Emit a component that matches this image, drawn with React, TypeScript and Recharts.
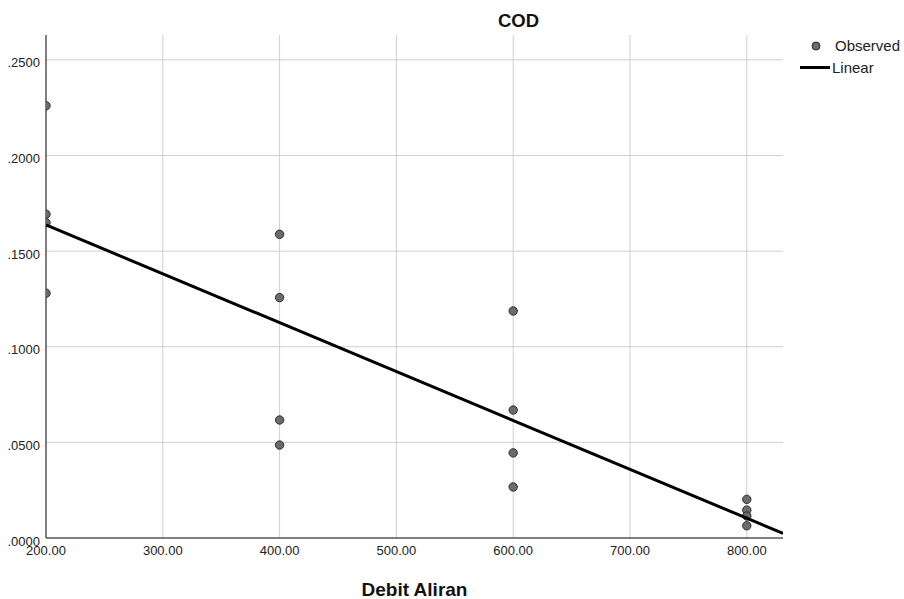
import React from 'react';
import { ScatterChart, Scatter, XAxis, YAxis, ReferenceLine } from 'recharts';

// Observed COD per flow rate (Debit Aliran)
const flowRates = [200, 200, 200, 200, 400, 400, 400, 400, 600, 600, 600, 600, 800, 800, 800, 800];
const codValues = [
  0.226, 0.1693, 0.1649, 0.128,
  0.1588, 0.1257, 0.0617, 0.0486,
  0.1187, 0.0669, 0.0445, 0.0267,
  0.0202, 0.0146, 0.0115, 0.0064,
];
const xTicks = [200, 300, 400, 500, 600, 700, 800];
const yTicks = [0, 0.05, 0.1, 0.15, 0.2, 0.25];
const xDomain: [number, number] = [200, 831];
const yDomain: [number, number] = [0, 0.263];

const observed = flowRates.map((x, i) => ({ x, y: codValues[i] }));

// Least-squares linear fit over the observed points
const n = flowRates.length;
const meanX = flowRates.reduce((a, b) => a + b, 0) / n;
const meanY = codValues.reduce((a, b) => a + b, 0) / n;
let sxy = 0;
let sxx = 0;
flowRates.forEach((x, i) => {
  sxy += (x - meanX) * (codValues[i] - meanY);
  sxx += (x - meanX) * (x - meanX);
});
const slope = sxy / sxx;
const intercept = meanY - slope * meanX;
const fitted = xDomain.map((x) => ({ x, y: intercept + slope * x }));

const FONT = '"Liberation Sans", Arial, sans-serif';
const GRID = '#cfcfcf';

const Dot = (props: any) => {
  const { cx, cy } = props;
  if (cx == null || cy == null) return <g />;
  return <circle cx={cx} cy={cy} r={4.2} fill="#6b6b6b" stroke="#2e2e2e" strokeWidth={1} />;
};

// Title and legend drawn on top of the chart
const Overlay = () => (
  <svg
    width={904}
    height={599}
    style={{ position: 'absolute', left: 0, top: 0, pointerEvents: 'none' }}
  >
    <text x={518.5} y={26.5} textAnchor="middle" fontSize={18.5} fontWeight="bold" fill="#111" fontFamily={FONT}>
      COD
    </text>
    <g transform="translate(800,37)">
      <circle cx={16} cy={9} r={4} fill="#6b6b6b" stroke="#2e2e2e" strokeWidth={1} />
      <text x={35} y={9} dy="0.35em" fontSize={15} fill="#222" fontFamily={FONT}>Observed</text>
      <line x1={0} y1={30.5} x2={30} y2={30.5} stroke="#000" strokeWidth={3} />
      <text x={32} y={30.5} dy="0.35em" fontSize={15} fill="#222" fontFamily={FONT}>Linear</text>
    </g>
  </svg>
);

export default function App() {
  return (
    <div style={{ position: 'absolute', left: 0, top: 0, width: 904, height: 599, background: '#fff', fontFamily: FONT }}>
      <ScatterChart width={904} height={599} margin={{ top: 35, right: 121, bottom: 0, left: 0 }}>
        {xTicks.slice(1).map((v) => (
          <ReferenceLine key={`vx${v}`} x={v} stroke={GRID} strokeWidth={1} />
        ))}
        {yTicks.slice(1).map((v) => (
          <ReferenceLine key={`hy${v}`} y={v} stroke={GRID} strokeWidth={1} />
        ))}
        <XAxis
          type="number"
          dataKey="x"
          domain={xDomain}
          ticks={xTicks}
          allowDataOverflow
          height={61}
          tickLine={false}
          axisLine={{ stroke: '#555', strokeWidth: 1.5 }}
          tick={{ fontSize: 13, fill: '#222', fontFamily: FONT }}
          tickFormatter={(v: number) => v.toFixed(2)}
          label={{
            value: 'Debit Aliran',
            position: 'insideBottom',
            offset: 3,
            style: { fontSize: 19, fontWeight: 'bold', fill: '#111', fontFamily: FONT },
          }}
        />
        <YAxis
          type="number"
          dataKey="y"
          domain={yDomain}
          ticks={yTicks}
          allowDataOverflow
          width={46}
          tickLine={false}
          tickSize={4}
          tickMargin={2}
          axisLine={{ stroke: '#555', strokeWidth: 1.5 }}
          tick={{ fontSize: 13, fill: '#222', fontFamily: FONT, dy: 3 }}
          tickFormatter={(v: number) => v.toFixed(4).replace(/^0/, '')}
        />
        <Scatter name="Observed" data={observed} shape={<Dot />} isAnimationActive={false} />
        <Scatter
          name="Linear"
          data={fitted}
          line={{ stroke: '#000', strokeWidth: 3 }}
          lineType="joint"
          shape={() => <g />}
          isAnimationActive={false}
        />
      </ScatterChart>
      <Overlay />
    </div>
  );
}
